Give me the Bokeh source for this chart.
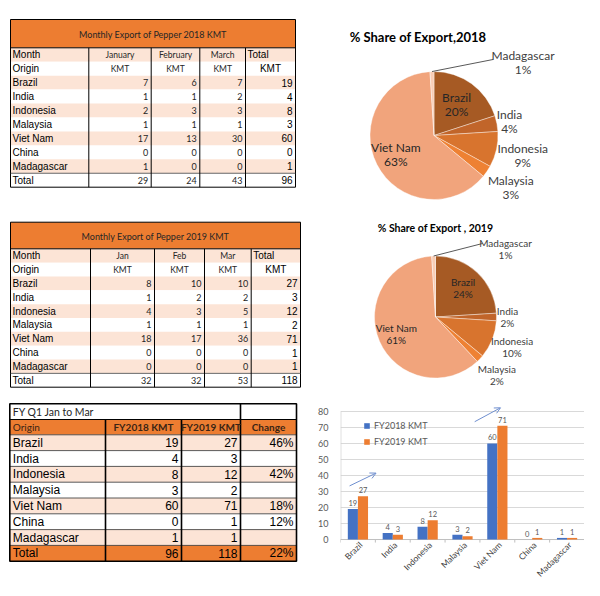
import math
from bokeh.plotting import figure
from bokeh.layouts import row, column
from bokeh.models import Range1d, FixedTicker, Legend, LegendItem, Arrow, OpenHead
from bokeh.core.properties import value
from bokeh.embed import file_html
from bokeh.resources import INLINE

# ---------------- data ----------------
origins = ["Brazil", "India", "Indonesia", "Malaysia", "Viet Nam", "China", "Madagascar"]

months_2018 = ["January", "February", "March"]
jan_2018 = [7, 1, 2, 1, 17, 0, 1]
feb_2018 = [6, 1, 3, 1, 13, 0, 0]
mar_2018 = [7, 2, 3, 1, 30, 0, 0]
total_2018 = [19, 4, 8, 3, 60, 0, 1]
coltot_2018 = [29, 24, 43, 96]

months_2019 = ["Jan", "Feb", "Mar"]
jan_2019 = [8, 1, 4, 1, 18, 0, 0]
feb_2019 = [10, 2, 3, 1, 17, 0, 0]
mar_2019 = [10, 2, 5, 1, 36, 0, 0]
total_2019 = [27, 3, 12, 2, 71, 1, 1]
coltot_2019 = [32, 32, 53, 118]

change = ["46%", "", "42%", "", "18%", "12%", ""]
change_total = "22%"

share_2018 = [20, 4, 9, 3, 63, 0, 1]
share_2019 = [24, 2, 10, 2, 61, 0, 1]

y_ticks = [0, 10, 20, 30, 40, 50, 60, 70, 80]

# ---------------- style ----------------
ARIAL = "Liberation Sans"
CALI = "Lato"
ORANGE = "#ED7D31"
PEACH = "#FCE4D6"
BLUE = "#4472C4"
PIE_COLORS = ["#A65A24", "#C1652A", "#D8742E", "#EE8133", "#F1A47C", "#F5B995", "#F9CDB5"]

LEFT_W = 302
RIGHT_W = 282
TOTAL_H = 580
PIE_H = 390
BAR_BORDER_L = 38


def canvas(w, h, x0, x1, y0, y1, border_left=0):
    p = figure(width=w, height=h, x_range=Range1d(x0 + border_left, x1), y_range=Range1d(-y1, -y0),
               output_backend="svg", toolbar_location=None, min_border=0,
               min_border_left=border_left,
               x_axis_location=None, y_axis_location=None)
    p.grid.visible = False
    p.outline_line_color = None
    return p


def txt(p, xs, ys, texts, size, font, align="left", color="#000000", bold=False, baseline="middle"):
    p.text(x=list(xs), y=[-y for y in ys], text=list(texts), text_font=value(font),
           text_font_size=f"{size}px", text_align=align, text_baseline=baseline,
           text_color=color, text_font_style="bold" if bold else "normal")


def hline(p, x0, x1, y, color="#000000", width=1.0):
    p.segment(x0=[x0], x1=[x1], y0=[-y], y1=[-y], line_color=color, line_width=width)


def vline(p, x, y0, y1, color="#000000", width=1.0):
    p.segment(x0=[x], x1=[x], y0=[-y0], y1=[-y1], line_color=color, line_width=width)


def monthly_table(p, xe, top, title_h, row_h, title, months, cols, totals, coltot):
    tb = top + title_h
    nrows = 2 + len(origins) + 1
    bottom = tb + nrows * row_h
    p.quad(left=[xe[0]], right=[xe[-1]], top=[-top], bottom=[-tb], fill_color=ORANGE, line_color=None)
    fills = [PEACH if i % 2 == 0 else "#FFFFFF" for i in range(nrows)]
    p.quad(left=[xe[0]] * nrows, right=[xe[-1]] * nrows,
           top=[-(tb + i * row_h) for i in range(nrows)],
           bottom=[-(tb + (i + 1) * row_h) for i in range(nrows)],
           fill_color=fills, line_color=None)
    p.quad(left=[xe[0]], right=[xe[-1]], top=[-top], bottom=[-bottom], fill_color=None,
           line_color="#000000", line_width=1)
    hline(p, xe[0], xe[-1], tb)
    hline(p, xe[0], xe[-1], tb + (nrows - 1) * row_h, color="#404040", width=0.8)
    for x in xe[1:-1]:
        vline(p, x, tb, bottom)
    txt(p, [(xe[0] + xe[-1]) / 2], [(top + tb) / 2 + 1], [title], 9, CALI, "center", "#262626")
    cy = [tb + (i + 0.5) * row_h for i in range(nrows)]
    mids = [(xe[i] + xe[i + 1]) / 2 for i in range(len(xe) - 1)]
    txt(p, [xe[0] + 2], [cy[0]], ["Month"], 10, ARIAL)
    txt(p, mids[1:4], [cy[0]] * 3, months, 8.5, CALI, "center", "#262626")
    txt(p, [xe[4] + 2], [cy[0]], ["Total"], 10, ARIAL)
    txt(p, [xe[0] + 2], [cy[1]], ["Origin"], 10, ARIAL)
    txt(p, mids[1:4], [cy[1]] * 3, ["KMT"] * 3, 8.5, CALI, "center", "#262626")
    txt(p, [mids[4]], [cy[1]], ["KMT"], 10, ARIAL, "center")
    n = len(origins)
    rows_y = cy[2:2 + n]
    txt(p, [xe[0] + 2] * n, rows_y, origins, 10, ARIAL)
    for c, vals in enumerate(cols):
        txt(p, [xe[c + 2] - 3] * n, rows_y, [str(v) for v in vals], 9, CALI, "right", "#262626")
    txt(p, [xe[5] - 3] * n, rows_y, [str(v) for v in totals], 10, ARIAL, "right")
    txt(p, [xe[0] + 2], [cy[-1]], ["Total"], 10, ARIAL)
    txt(p, [xe[c + 2] - 3 for c in range(3)], [cy[-1]] * 3, [str(v) for v in coltot[:3]], 9, CALI,
        "right", "#262626")
    txt(p, [xe[5] - 3], [cy[-1]], [str(coltot[3])], 10, ARIAL, "right")


def summary_table(p, xe, top, title_h, head_h, row_h):
    hb = top + title_h
    db = hb + head_h
    n = len(origins)
    bottom = db + (n + 1) * row_h
    p.quad(left=[xe[0]], right=[xe[-1]], top=[-hb], bottom=[-db], fill_color=ORANGE, line_color=None)
    fills = [PEACH if i % 2 == 0 else "#FFFFFF" for i in range(n)] + [ORANGE]
    p.quad(left=[xe[0]] * (n + 1), right=[xe[-1]] * (n + 1),
           top=[-(db + i * row_h) for i in range(n + 1)],
           bottom=[-(db + (i + 1) * row_h) for i in range(n + 1)],
           fill_color=fills, line_color=None)
    for i in range(n + 1):
        hline(p, xe[0], xe[-1], db + i * row_h, color="#303030", width=0.8)
    hline(p, xe[0], xe[-1], hb, width=1.2)
    p.quad(left=[xe[0]], right=[xe[-1]], top=[-top], bottom=[-bottom], fill_color=None,
           line_color="#000000", line_width=1.6)
    vline(p, xe[1], hb, bottom, width=1.6)
    vline(p, xe[2], hb, bottom, width=1.6)
    vline(p, xe[3], top, bottom, width=1.6)
    mids = [(xe[i] + xe[i + 1]) / 2 for i in range(len(xe) - 1)]
    txt(p, [xe[0] + 3], [(top + hb) / 2], ["FY Q1 Jan to Mar"], 10.5, CALI, "left", "#262626")
    hy = (hb + db) / 2
    txt(p, [xe[0] + 3], [hy], ["Origin"], 10, CALI, "left", "#3A2414")
    txt(p, mids[1:], [hy] * 3, ["FY2018 KMT", "FY2019 KMT", "Change"], 10, CALI, "center", "#3A2414", bold=True)
    cy = [db + (i + 0.5) * row_h for i in range(n + 1)]
    txt(p, [xe[0] + 3] * n, cy[:n], origins, 12, ARIAL)
    txt(p, [xe[2] - 3] * n, cy[:n], [str(v) for v in total_2018], 12, ARIAL, "right")
    txt(p, [xe[3] - 3] * n, cy[:n], [str(v) for v in total_2019], 12, ARIAL, "right")
    txt(p, [xe[4] - 3] * n, cy[:n], change, 12, ARIAL, "right")
    txt(p, [xe[0] + 3], [cy[n]], ["Total"], 12, ARIAL)
    txt(p, [xe[2] - 3, xe[3] - 3, xe[4] - 3], [cy[n]] * 3,
        [str(coltot_2018[3]), str(coltot_2019[3]), change_total], 12, ARIAL, "right")


# ---------------- left: tables ----------------
left = canvas(LEFT_W, TOTAL_H, 0, LEFT_W, 0, TOTAL_H)
monthly_table(left, [10, 88.3, 150.7, 199.3, 245, 295], 19, 28.3, 13.94,
              "Monthly Export of Pepper 2018 KMT", months_2018,
              [jan_2018, feb_2018, mar_2018], total_2018, coltot_2018)
monthly_table(left, [10, 90, 154, 204, 250.7, 300], 221.7, 26.6, 13.84,
              "Monthly Export of Pepper 2019 KMT", months_2019,
              [jan_2019, feb_2019, mar_2019], total_2019, coltot_2019)
summary_table(left, [9.3, 105, 181, 240, 296], 403.3, 15.7, 15.3, 15.8)


# ---------------- right top: pies ----------------
def pie(p, cx, cy, r, shares, label_f, fs, lh, title, title_x, title_y, title_fs, lead_end, lead_lbl):
    tot = float(sum(shares))
    cum = 0.0
    starts, ends, cols, mids = [], [], [], []
    for i, s in enumerate(shares):
        a0 = cum / tot
        cum += s
        a1 = cum / tot
        mids.append((a0 + a1) / 2 * 2 * math.pi)
        if s > 0:
            starts.append(math.pi / 2 - 2 * math.pi * a1)
            ends.append(math.pi / 2 - 2 * math.pi * a0)
            cols.append(PIE_COLORS[i])
    p.wedge(x=cx, y=-cy, radius=r, start_angle=starts, end_angle=ends, fill_color=cols,
            line_color="#FFFFFF", line_width=0.4)
    for i, s in enumerate(shares):
        if s == 0:
            continue
        th = mids[i]
        if origins[i] == "Madagascar":
            sx, sy = cx + r * math.sin(th), cy - r * math.cos(th)
            ex, ey = cx + lead_end[0], cy + lead_end[1]
            p.line(x=[sx, ex], y=[-sy, -ey], line_color="#595959", line_width=1)
            lx, ly = cx + lead_lbl[0], cy + lead_lbl[1]
        else:
            f = label_f[i]
            lx, ly = cx + f * r * math.sin(th), cy - f * r * math.cos(th)
        inside = label_f[i] < 1
        col = "#262626" if inside else "#404040"
        txt(p, [lx, lx], [ly - lh / 2, ly + lh / 2], [origins[i], f"{s}%"], fs, CALI, "center", col)
    txt(p, [title_x], [title_y], [title], title_fs, CALI, "center", "#000000", bold=True)


pies = canvas(RIGHT_W, PIE_H, LEFT_W, LEFT_W + RIGHT_W, 0, PIE_H, border_left=BAR_BORDER_L)
pie(pies, 433.5, 135, 64, share_2018, [0.6, 1.2, 1.42, 1.45, 0.67, 1.0, 1.5], 12, 14,
    "% Share of Export,2018", 417.5, 36, 13, (59, -76), (89, -73))
pie(pies, 435, 316.5, 61, share_2019, [0.66, 1.18, 1.35, 1.38, 0.7, 1.0, 1.5], 10, 12,
    "% Share of Export , 2019", 435, 227, 10.5, (47, -73.5), (70, -68.5))

# ---------------- right bottom: bar chart ----------------
# the frame reaches down to the page bottom so the slanted category names fit below y=0
bar = figure(width=RIGHT_W, height=TOTAL_H - PIE_H, x_range=Range1d(0, 7), y_range=Range1d(-25.6, 83.1),
             output_backend="svg", toolbar_location=None, x_axis_location=None,
             min_border_left=BAR_BORDER_L, min_border_right=0, min_border_top=16, min_border_bottom=0)
bar.outline_line_color = None
ncat = len(origins)
xc = [i + 0.5 for i in range(ncat)]
bw = 0.29

yt_max = y_ticks[-1]
bar.yaxis.ticker = FixedTicker(ticks=y_ticks)
bar.ygrid.ticker = FixedTicker(ticks=y_ticks)
bar.ygrid.grid_line_color = "#D9D9D9"
bar.xgrid.grid_line_color = None
bar.yaxis.axis_line_color = None
bar.yaxis.major_tick_line_color = None
bar.yaxis.minor_tick_line_color = None
bar.yaxis.major_label_text_font = CALI
bar.yaxis.major_label_text_font_size = "9px"
bar.yaxis.major_label_text_color = "#595959"
bar.yaxis.major_label_standoff = 6

# value axis line, category axis line and ticks between categories
bar.segment(x0=[0.01], x1=[0.01], y0=[0], y1=[yt_max], line_color="#D0D0D0", line_width=1)
bar.segment(x0=[0], x1=[ncat], y0=[0], y1=[0], line_color="#BFBFBF", line_width=1)
bar.segment(x0=list(range(ncat + 1)), x1=list(range(ncat + 1)), y0=[0] * (ncat + 1),
            y1=[-1.9] * (ncat + 1), line_color="#BFBFBF", line_width=1)

r18 = bar.vbar(x=[x - bw / 2 for x in xc], top=total_2018, width=bw, fill_color=BLUE, line_color=None)
r19 = bar.vbar(x=[x + bw / 2 for x in xc], top=total_2019, width=bw, fill_color=ORANGE, line_color=None)
bar.text(x=[x - bw / 2 for x in xc], y=total_2018, text=[str(v) for v in total_2018],
         text_align="center", text_baseline="bottom", y_offset=-3, text_font=value(CALI),
         text_font_size="7.5px", text_color="#595959")
bar.text(x=[x + bw / 2 for x in xc], y=total_2019, text=[str(v) for v in total_2019],
         text_align="center", text_baseline="bottom", y_offset=-3, text_font=value(CALI),
         text_font_size="7.5px", text_color="#595959")

# slanted category names under the axis
bar.text(x=xc, y=[0] * ncat, text=origins, angle=math.pi / 4, text_align="right",
         text_baseline="middle", x_offset=3, y_offset=4, text_font=value(CALI),
         text_font_size="8.5px", text_color="#404040")

legend = Legend(items=[LegendItem(label="FY2018 KMT", renderers=[r18]),
                       LegendItem(label="FY2019 KMT", renderers=[r19])],
                location=(23, 133), glyph_width=7, glyph_height=7, label_height=12,
                label_text_font=CALI, label_text_font_size="9px", label_text_color="#595959",
                spacing=4, padding=0, margin=0, background_fill_alpha=0, border_line_color=None,
                label_standoff=4)
bar.add_layout(legend)

# trend arrows (relative to category index and FY2019 bar value)
arrows = [(0, -0.24, 6.5, 0.52, 14.5), (4, -0.65, 2.6, 0.09, 11.3)]
for ci, dx0, dy0, dx1, dy1 in arrows:
    bar.add_layout(Arrow(end=OpenHead(size=6, line_color="#6F8FCF", line_width=1),
                         x_start=xc[ci] + dx0, y_start=total_2019[ci] + dy0,
                         x_end=xc[ci] + dx1, y_end=total_2019[ci] + dy1,
                         line_color="#6F8FCF", line_width=1))

layout = row(left, column(pies, bar))
open("out.html", "w").write(file_html(layout, INLINE))
